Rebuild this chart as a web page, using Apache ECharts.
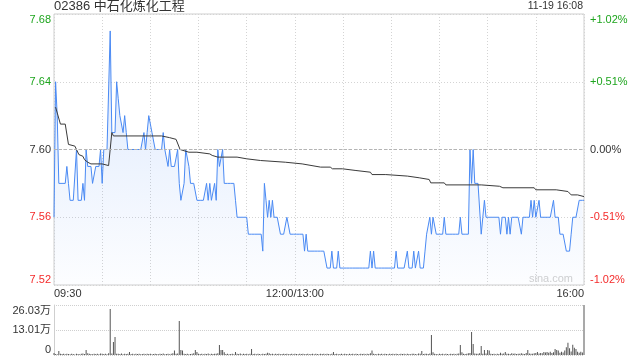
<!DOCTYPE html>
<html>
<head>
<meta charset="utf-8">
<script src="https://cdn.jsdelivr.net/npm/echarts@6/dist/echarts.min.js"></script>
<style>
html,body{margin:0;padding:0;background:#fff;}
#c{width:640px;height:360px;}
</style>
</head>
<body>
<div id="c"></div>
<script>
// ---- data ----
const titleText = '02386 中石化炼化工程';
const dateText = '11-19 16:08';
const prevClose = 7.60;
// minute prices 09:30 .. 16:00 (index = minutes of trading)
const price = [
7.56,7.64,7.62,7.58,7.58,7.58,7.58,7.58,7.59,7.58,
7.57,7.57,7.57,7.57,7.60,7.57,7.57,7.57,7.58,7.57,
7.60,7.59,7.59,7.59,7.58,7.58,7.59,7.59,7.59,7.60,
7.58,7.60,7.60,7.60,7.60,7.67,7.61,7.61,7.61,7.64,
7.63,7.62,7.62,7.61,7.62,7.61,7.60,7.60,7.60,7.60,
7.60,7.60,7.60,7.60,7.60,7.60,7.61,7.60,7.61,7.62,
7.62,7.61,7.61,7.60,7.60,7.60,7.60,7.60,7.61,7.60,
7.60,7.59,7.60,7.59,7.59,7.59,7.59,7.60,7.58,7.57,
7.57,7.58,7.60,7.60,7.59,7.58,7.58,7.58,7.58,7.57,
7.57,7.57,7.57,7.57,7.57,7.58,7.57,7.58,7.57,7.57,
7.58,7.57,7.60,7.59,7.59,7.60,7.58,7.58,7.58,7.58,
7.58,7.58,7.58,7.57,7.56,7.56,7.56,7.56,7.56,7.56,
7.56,7.55,7.55,7.55,7.55,7.55,7.55,7.55,7.55,7.55,
7.54,7.58,7.57,7.56,7.57,7.56,7.57,7.56,7.56,7.56,
7.56,7.55,7.55,7.55,7.55,7.56,7.56,7.55,7.55,7.55,
7.55,7.55,7.55,7.55,7.55,7.55,7.54,7.55,7.54,7.54,
7.54,7.54,7.54,7.54,7.54,7.54,7.54,7.54,7.54,7.54,
7.53,7.53,7.53,7.54,7.53,7.53,7.53,7.54,7.53,7.53,
7.53,7.53,7.53,7.53,7.53,7.53,7.53,7.53,7.53,7.53,
7.53,7.53,7.53,7.53,7.53,7.53,7.53,7.54,7.53,7.54,
7.53,7.53,7.53,7.53,7.53,7.53,7.53,7.53,7.53,7.53,
7.53,7.53,7.53,7.54,7.53,7.53,7.53,7.53,7.53,7.53,
7.54,7.53,7.53,7.53,7.54,7.53,7.53,7.54,7.53,7.53,
7.53,7.54,7.55,7.55,7.56,7.55,7.56,7.56,7.55,7.55,
7.55,7.55,7.55,7.56,7.55,7.55,7.55,7.55,7.55,7.55,
7.55,7.55,7.55,7.56,7.55,7.55,7.55,7.55,7.55,7.60,
7.58,7.60,7.58,7.58,7.58,7.58,7.55,7.56,7.57,7.56,
7.56,7.56,7.56,7.56,7.56,7.56,7.56,7.56,7.55,7.56,
7.56,7.56,7.55,7.56,7.55,7.56,7.56,7.56,7.56,7.56,
7.56,7.55,7.56,7.56,7.56,7.56,7.56,7.57,7.56,7.57,
7.56,7.56,7.57,7.56,7.56,7.56,7.56,7.56,7.56,7.56,
7.56,7.57,7.56,7.56,7.56,7.55,7.55,7.55,7.55,7.54,
7.54,7.54,7.55,7.56,7.56,7.56,7.56,7.57,7.57,7.57,
7.57
];
// average price line (minute, value)
const avgT = [1,2,4,7,9,13,14,15.5,18,19,21,23,30,34,36,37,67,72,76,78.5,84,89,90,97,98.5,102,114,115,120,121,128.6,129.6,144,145,154.5,155.6,166,172,173.4,179.6,180.7,188,189,197,198,206.6,207.6,220,221,227.4,228.4,233.6,234.6,243,244,266,267,277.4,279.5,299,300,312.7,313.7,320,322,326,327,330];
const avgV = [7.625,7.624,7.615,7.615,7.603,7.602,7.600,7.597,7.596,7.594,7.5925,7.5915,7.5915,7.5905,7.610,7.608,7.608,7.607,7.606,7.600,7.5984,7.5984,7.5974,7.5974,7.5965,7.5955,7.5955,7.5945,7.5945,7.5935,7.5935,7.5925,7.5925,7.5915,7.5915,7.5906,7.5896,7.5896,7.5886,7.5886,7.5876,7.5876,7.5866,7.5866,7.5852,7.5852,7.5843,7.5843,7.5833,7.5833,7.5823,7.5823,7.5803,7.5803,7.5791,7.5791,7.5783,7.5783,7.5774,7.5774,7.5762,7.5762,7.5752,7.5752,7.5732,7.5732,7.5722,7.5722];
// minute volume in 万
const volume = [
1.0,0.5,0.4,2.1,0.6,0.5,0.7,0.4,0.6,0.5,
0.4,0.6,0.5,0.3,0.7,0.5,0.4,0.6,0.8,0.5,
2.6,0.9,0.6,0.5,0.4,0.7,0.5,0.6,0.4,0.8,
0.6,0.5,0.7,0.4,0.9,23.9,0.8,6.8,9.4,0.7,
0.6,0.5,0.8,0.4,0.6,0.5,0.7,1.6,0.5,0.6,
0.4,0.6,0.5,0.7,0.4,0.5,0.6,0.4,0.7,0.5,
0.6,0.4,0.5,0.7,0.5,0.4,0.6,0.5,0.8,0.4,
0.5,0.6,0.4,0.7,0.9,2.3,0.6,0.8,17.7,2.6,
2.3,0.7,0.5,0.6,0.4,0.5,0.7,0.9,2.6,1.6,
0.6,0.5,0.7,0.4,0.6,0.5,0.8,0.4,0.6,0.5,
0.7,0.6,0.9,5.2,2.6,2.6,1.4,0.5,0.6,0.4,
0.5,0.7,0.4,1.6,0.6,0.5,0.8,0.4,0.6,0.5,
0.7,0.4,0.6,3.1,0.5,0.7,0.4,0.6,0.5,0.4,
0.6,0.5,0.7,1.2,0.9,0.5,0.6,0.4,0.7,0.5,
0.6,0.4,0.5,0.7,0.5,0.6,0.4,0.5,0.7,0.4,
0.6,0.5,0.4,0.7,0.5,0.6,0.4,0.5,0.6,0.4,
0.5,0.7,0.4,0.6,0.5,0.4,0.6,0.5,0.7,0.4,
0.6,0.5,0.4,0.7,1.6,0.5,0.6,0.4,0.5,0.7,
0.4,0.6,0.5,0.4,0.6,0.5,0.7,0.4,0.6,0.5,
0.4,0.6,0.5,0.7,0.4,0.6,0.5,0.9,2.3,0.6,
0.5,0.4,0.6,0.5,0.7,0.4,0.6,0.5,0.4,0.6,
0.5,0.7,0.4,0.6,0.5,0.4,0.6,0.5,0.7,0.4,
0.6,0.5,0.4,0.6,0.7,0.5,0.4,0.8,0.6,2.1,
0.5,0.7,0.6,0.5,0.8,10.4,1.4,0.6,0.5,0.4,
0.6,0.5,0.7,0.4,0.6,0.5,0.4,0.6,0.5,0.7,
0.4,0.6,0.8,5.2,1.4,0.6,0.5,0.7,0.9,1.0,
12.0,5.7,0.8,0.6,0.7,0.9,4.7,0.6,2.6,0.8,
2.6,2.3,0.7,0.5,0.6,0.4,0.7,0.5,1.2,0.6,
0.8,1.6,0.6,0.7,0.5,0.9,0.6,0.8,0.5,0.7,
0.6,0.9,0.7,0.5,1.0,2.6,0.8,0.7,0.6,0.9,
1.0,1.6,0.8,1.1,0.9,1.5,1.3,1.6,1.2,1.7,
1.1,1.4,3.1,2.6,2.3,1.2,1.7,1.3,2.3,4.0,
6.4,3.5,1.8,5.4,3.8,3.1,1.7,1.2,1.7,1.3,
26.03
];
const xTickMinutes = [0, 150, 330];
const xTickLabels = ['09:30', '12:00/13:00', '16:00'];
const pctLabels = ['-1.02%', '-0.51%', '0.00%', '+0.51%', '+1.02%'];
const volLabels = ['0', '13.01万', '26.03万'];
const volMax = 26.03;

// ---- chart ----
const FONT = "'Liberation Sans', Arial, 'Noto Sans CJK SC', sans-serif";
const GREEN = '#1ea51e', RED = '#f42a2a', DARK = '#333';
const chart = echarts.init(document.getElementById('c'), null, {renderer: 'canvas'});
const option = {
  animation: false,
  backgroundColor: '#fff',
  textStyle: {fontFamily: FONT},
  graphic: [
    {type: 'text', left: 54, top: 0, style: {text: titleText, fontSize: 13, fill: '#333', fontFamily: FONT}},
    {type: 'text', right: 57, top: 1, style: {text: dateText, fontSize: 10.5, fill: '#333', fontFamily: FONT}},
    {type: 'text', right: 67, top: 273, style: {text: 'sina.com', fontSize: 11, fill: '#d0d0d0', fontFamily: FONT}}
  ],
  grid: [
    {left: 54, right: 56, top: 14, height: 271, show: true, borderColor: '#cfcfcf', borderWidth: 1, containLabel: false},
    {left: 54, right: 56, top: 305, height: 50, containLabel: false}
  ],
  xAxis: [
    {
      type: 'value', gridIndex: 0, min: 0, max: 330, interval: 30,
      axisLine: {show: false}, axisTick: {show: false},
      splitLine: {show: true, lineStyle: {color: '#d4d4d4', type: [1, 2]}},
      axisLabel: {
        show: true, margin: 3, fontSize: 11, color: '#333', fontFamily: FONT,
        showMinLabel: true, showMaxLabel: true, alignMinLabel: 'left', alignMaxLabel: 'right',
        formatter: function (v) { const k = xTickMinutes.indexOf(Math.round(v)); return k >= 0 ? xTickLabels[k] : ''; }
      }
    },
    {
      type: 'value', gridIndex: 1, min: 0, max: 330, interval: 30,
      axisLine: {show: false}, axisTick: {show: false}, axisLabel: {show: false}, splitLine: {show: false}
    }
  ],
  yAxis: [
    {
      type: 'value', gridIndex: 0, min: 7.52, max: 7.68, interval: 0.04,
      axisLine: {show: false}, axisTick: {show: false},
      splitLine: {show: true, lineStyle: {color: '#d4d4d4', type: [1, 2]}},
      axisLabel: {
        margin: 3, fontSize: 11, fontFamily: FONT,
        verticalAlignMinLabel: 'bottom', verticalAlignMaxLabel: 'top',
        formatter: function (v) { return v.toFixed(2); },
        color: function (v) { v = Number(v); return v > prevClose + 0.001 ? GREEN : (v < prevClose - 0.001 ? RED : DARK); }
      }
    },
    {
      type: 'value', gridIndex: 0, position: 'right', min: -2, max: 2, interval: 1,
      axisLine: {show: false}, axisTick: {show: false}, splitLine: {show: false},
      axisLabel: {
        margin: 6, fontSize: 11, fontFamily: FONT,
        verticalAlignMinLabel: 'bottom', verticalAlignMaxLabel: 'top',
        formatter: function (v) { return pctLabels[Math.round(v) + 2]; },
        color: function (v) { v = Number(v); return v > 0.1 ? GREEN : (v < -0.1 ? RED : DARK); }
      }
    },
    {
      type: 'value', gridIndex: 1, min: 0, max: volMax, interval: volMax / 2,
      axisLine: {show: true, lineStyle: {color: '#cfcfcf'}}, axisTick: {show: false},
      splitLine: {show: true, lineStyle: {color: '#cfcfcf', type: [1, 1]}},
      axisLabel: {
        margin: 3, fontSize: 11, color: '#333', fontFamily: FONT,
        showMinLabel: true, showMaxLabel: true,
        verticalAlignMinLabel: 'bottom', verticalAlignMaxLabel: 'top',
        formatter: function (v) { return volLabels[Math.round(v / (volMax / 2))]; }
      }
    }
  ],
  series: [
    {
      type: 'line', xAxisIndex: 0, yAxisIndex: 0,
      data: price.map(function (v, i) { return [i, v]; }),
      symbol: 'none', smooth: false,
      lineStyle: {color: '#4a8af4', width: 1},
      areaStyle: {
        origin: 'start',
        color: new echarts.graphic.LinearGradient(0, 0, 0, 1, [
          {offset: 0, color: 'rgba(74,138,244,0.28)'},
          {offset: 1, color: 'rgba(74,138,244,0.02)'}
        ])
      },
      markLine: {
        silent: true, symbol: 'none', label: {show: false},
        lineStyle: {color: '#b4b4b4', type: [3, 2], width: 1},
        data: [{yAxis: prevClose}]
      },
      z: 3
    },
    {
      type: 'line', xAxisIndex: 0, yAxisIndex: 0,
      data: avgT.map(function (t, i) { return [t, avgV[i]]; }),
      symbol: 'none', lineStyle: {color: '#3a3a3a', width: 1}, z: 4
    },
    {
      type: 'bar', xAxisIndex: 1, yAxisIndex: 2,
      data: volume.map(function (v, i) { return [i, v]; }),
      barWidth: 1, itemStyle: {color: '#555'}
    }
  ]
};
chart.setOption(option);
</script>
</body>
</html>
